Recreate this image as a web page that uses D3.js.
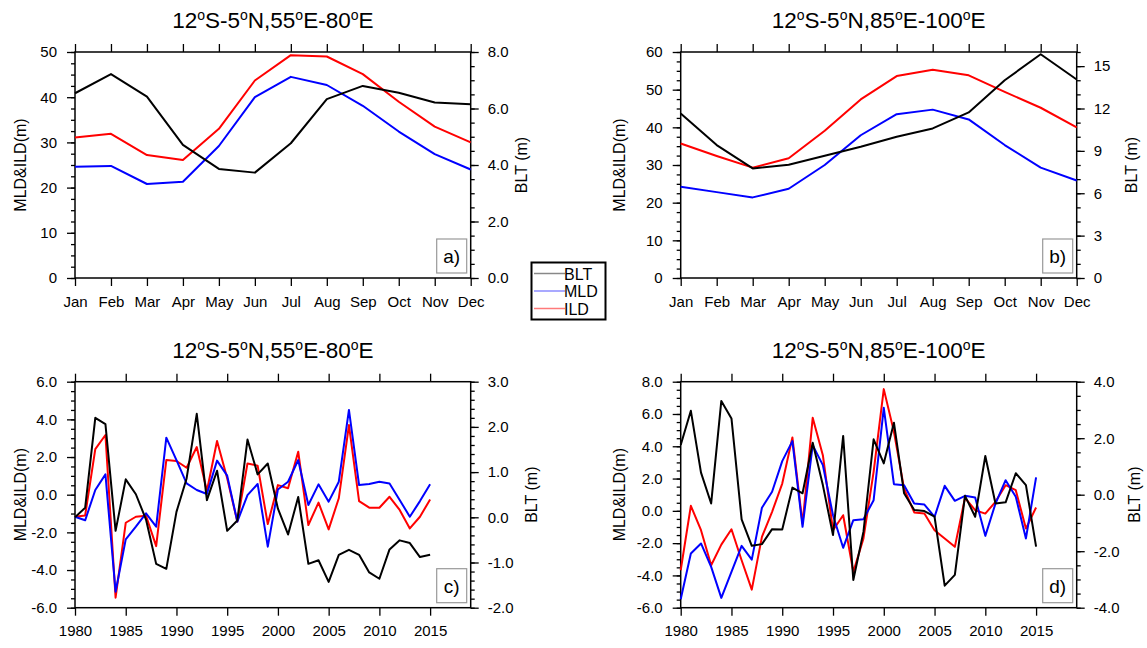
<!DOCTYPE html>
<html>
<head>
<meta charset="utf-8">
<script src="https://cdn.jsdelivr.net/npm/d3@7"></script>
<style>
    body { margin: 0; background: #fff; }
    svg { font-family: "Liberation Sans", Arial, Helvetica, sans-serif; }
</style>
</head>
<body>
<svg id="chart" width="1147" height="648"></svg>
<script>
// climatology (panels a, b)
const months = ['Jan', 'Feb', 'Mar', 'Apr', 'May', 'Jun', 'Jul', 'Aug', 'Sep', 'Oct', 'Nov', 'Dec'];

const mldA = [24.6, 24.8, 20.8, 21.3, 29.2, 40.0, 44.5, 42.7, 38.1, 32.4, 27.4, 24.0];
const ildA = [31.1, 31.9, 27.2, 26.1, 33.0, 43.7, 49.3, 49.0, 45.1, 39.0, 33.5, 30.0];
const bltA = [6.54, 7.22, 6.42, 4.71, 3.86, 3.73, 4.77, 6.33, 6.80, 6.56, 6.21, 6.15];

const mldB = [24.2, 22.8, 21.4, 23.7, 30.0, 37.9, 43.5, 44.7, 42.1, 35.3, 29.3, 25.9];
const ildB = [35.7, 32.4, 29.3, 31.8, 39.1, 47.4, 53.6, 55.3, 53.8, 49.4, 45.2, 40.0];
const bltB = [11.65, 9.41, 7.76, 8.02, 8.66, 9.29, 10.0, 10.59, 11.72, 14.0, 15.84, 14.05];

// interannual anomalies (panels c, d)
const years = [1980, 1981, 1982, 1983, 1984, 1985, 1986, 1987, 1988, 1989,
               1990, 1991, 1992, 1993, 1994, 1995, 1996, 1997, 1998, 1999,
               2000, 2001, 2002, 2003, 2004, 2005, 2006, 2007, 2008, 2009,
               2010, 2011, 2012, 2013, 2014, 2015];

const mldC = [-1.17, -1.36, 0.25, 1.08, -5.15, -2.37, -1.70, -0.99, -1.70, 3.03,
              1.84, 0.60, 0.25, 0.04, 1.81, 1.01, -1.43, -0.02, 0.57, -2.76,
              0.28, 0.69, 1.84, -0.55, 0.55, -0.37, 0.69, 4.50, 0.51, 0.57,
              0.69, 0.60, -0.28, -1.17, -0.34, 0.55];
const ildC = [-1.17, -1.10, 2.42, 3.17, -5.47, -1.49, -1.17, -1.12, -2.73, 1.84,
              1.79, 1.43, 2.53, 0.20, 2.85, 0.87, -1.43, 1.66, 1.54, -1.56,
              0.51, 0.34, 2.28, -1.61, -0.42, -1.84, -0.19, 3.70, -0.34, -0.69,
              -0.69, -0.11, -0.81, -1.79, -1.17, -0.25];
const bltC = [0.0, 0.21, 2.20, 2.06, -0.30, 0.84, 0.51, -0.05, -1.03, -1.14,
              0.12, 0.86, 2.29, 0.38, 1.03, -0.30, -0.07, 1.72, 0.95, 1.19,
              0.19, -0.38, 0.45, -1.03, -0.95, -1.43, -0.83, -0.72, -0.83, -1.22,
              -1.36, -0.71, -0.51, -0.57, -0.88, -0.83];

const mldD = [-5.48, -2.64, -2.02, -3.47, -5.39, -3.78, -2.17, -3.02, 0.19, 1.18,
              3.08, 4.32, -0.99, 4.07, 2.83, -0.27, -2.29, -0.58, -0.52, 0.66,
              6.38, 1.65, 1.59, 0.45, 0.39, -0.37, 1.55, 0.62, 0.93, 0.83,
              -1.55, 0.45, 1.90, 0.87, -1.71, 2.07];
const ildD = [-3.68, 0.31, -1.20, -3.37, -2.09, -1.14, -3.06, -4.88, -1.61, -0.06,
              1.69, 4.55, -0.79, 5.76, 3.45, -1.20, -0.27, -3.78, -1.71, 2.42,
              7.54, 4.90, 1.38, -0.10, -0.17, -1.20, -1.71, -2.23, 0.81, 0.04,
              -0.17, 0.56, 1.59, 1.28, -1.10, 0.21];
const bltD = [1.76, 2.97, 0.78, -0.31, 3.32, 2.70, -0.87, -1.81, -1.75, -1.22,
              -1.23, 0.25, 0.05, 1.84, 0.34, -1.43, 2.08, -3.02, -1.31, 1.96,
              1.11, 2.55, 0.05, -0.54, -0.58, -0.78, -3.22, -2.84, -0.04, -0.78,
              1.37, -0.31, -0.27, 0.76, 0.34, -1.84];

// tick labels
const yearTicks = [1980, 1985, 1990, 1995, 2000, 2005, 2010, 2015];
const titleWest = ['12', 'o', 'S-5', 'o', 'N,55', 'o', 'E-80', 'o', 'E'];
const titleEast = ['12', 'o', 'S-5', 'o', 'N,85', 'o', 'E-100', 'o', 'E'];
const legendNames = ['BLT', 'MLD', 'ILD'];

const COLORS = { blt: '#000', mld: '#0000ff', ild: '#ff0000' };
const svg = d3.select('#chart');

const fmt1 = d => d.toFixed(1);
const fmt0 = d => String(d);

const panels = [
    {
        left: 75, right: 470.7, top: 52, bottom: 278,
        kind: 'month', title: titleWest, tag: 'a)',
        lDom: [0, 50], lTicks: [0, 10, 20, 30, 40, 50], lMinor: 2.5, lFmt: fmt0,
        rDom: [0, 8], rTicks: [0, 2, 4, 6, 8], rMinor: 0.5, rFmt: fmt1,
        mld: mldA, ild: ildA, blt: bltA, lTitleX: 20, rTitleX: 521
    },
    {
        left: 680.7, right: 1076.7, top: 52, bottom: 278,
        kind: 'month', title: titleEast, tag: 'b)',
        lDom: [0, 60], lTicks: [0, 10, 20, 30, 40, 50, 60], lMinor: 2.5, lFmt: fmt0,
        rDom: [0, 16], rTicks: [0, 3, 6, 9, 12, 15], rMinor: 1, rFmt: fmt0,
        mld: mldB, ild: ildB, blt: bltB, lTitleX: 619, rTitleX: 1131
    },
    {
        left: 75, right: 470.7, top: 381.7, bottom: 607.7,
        kind: 'year', title: titleWest, tag: 'c)',
        lDom: [-6, 6], lTicks: [-6, -4, -2, 0, 2, 4, 6], lMinor: 0.5, lFmt: fmt1,
        rDom: [-2, 3], rTicks: [-2, -1, 0, 1, 2, 3], rMinor: 0.2, rFmt: fmt1,
        mld: mldC, ild: ildC, blt: bltC, lTitleX: 20, rTitleX: 531
    },
    {
        left: 680.7, right: 1076.7, top: 381.7, bottom: 607.7,
        kind: 'year', title: titleEast, tag: 'd)',
        lDom: [-6, 8], lTicks: [-6, -4, -2, 0, 2, 4, 6, 8], lMinor: 0.5, lFmt: fmt1,
        rDom: [-4, 4], rTicks: [-4, -2, 0, 2, 4], rMinor: 0.5, rFmt: fmt1,
        mld: mldD, ild: ildD, blt: bltD, lTitleX: 619, rTitleX: 1134
    }
];

function minorTicks(dom, step) {
    const out = [];
    const n = Math.round((dom[1] - dom[0]) / step);
    for (let i = 0; i <= n; i++) out.push(dom[0] + i * step);
    return out;
}

function styleAxis(sel) {
    sel.select('.domain').remove();
    sel.selectAll('line').attr('stroke', '#000').attr('stroke-width', 1.3);
    sel.selectAll('text').attr('fill', '#000').style('font-size', '15px');
}

function drawPanel(p) {
    const g = svg.append('g');

    const x = p.kind === 'month'
        ? d3.scalePoint().domain(months).range([p.left, p.right])
        : d3.scaleLinear().domain([1980, 2019]).range([p.left, p.right]);
    const xv = p.kind === 'month' ? months : years;
    const yL = d3.scaleLinear().domain(p.lDom).range([p.bottom, p.top]);
    const yR = d3.scaleLinear().domain(p.rDom).range([p.bottom, p.top]);

    const bottomAxis = p.kind === 'month'
        ? d3.axisBottom(x)
        : d3.axisBottom(x).tickValues(yearTicks).tickFormat(fmt0);
    const topAxis = p.kind === 'month'
        ? d3.axisTop(x).tickFormat('')
        : d3.axisTop(x).tickValues(yearTicks).tickFormat('');

    // minor ticks on the y axes
    g.append('g').attr('transform', `translate(${p.left},0)`)
        .call(d3.axisLeft(yL).tickValues(minorTicks(p.lDom, p.lMinor)).tickSize(4).tickFormat(''))
        .call(styleAxis);
    g.append('g').attr('transform', `translate(${p.right},0)`)
        .call(d3.axisRight(yR).tickValues(minorTicks(p.rDom, p.rMinor)).tickSize(4).tickFormat(''))
        .call(styleAxis);

    // major ticks
    g.append('g').attr('transform', `translate(${p.left},0)`)
        .call(d3.axisLeft(yL).tickValues(p.lTicks).tickSize(8).tickPadding(10).tickFormat(p.lFmt))
        .call(styleAxis);
    g.append('g').attr('transform', `translate(${p.right},0)`)
        .call(d3.axisRight(yR).tickValues(p.rTicks).tickSize(8).tickPadding(9).tickFormat(p.rFmt))
        .call(styleAxis);
    g.append('g').attr('transform', `translate(0,${p.bottom})`)
        .call(bottomAxis.tickSize(8).tickPadding(10))
        .call(styleAxis);
    g.append('g').attr('transform', `translate(0,${p.top})`)
        .call(topAxis.tickSize(8))
        .call(styleAxis);

    // frame
    g.append('rect')
        .attr('x', p.left).attr('y', p.top)
        .attr('width', p.right - p.left).attr('height', p.bottom - p.top)
        .attr('fill', 'none').attr('stroke', '#000').attr('stroke-width', 1.5);

    // series
    const series = [
        { vals: p.ild, y: yL, color: COLORS.ild },
        { vals: p.mld, y: yL, color: COLORS.mld },
        { vals: p.blt, y: yR, color: COLORS.blt }
    ];
    series.forEach(s => {
        const line = d3.line()
            .x((d, i) => x(xv[i]))
            .y(d => s.y(d));
        g.append('path')
            .datum(s.vals)
            .attr('d', line)
            .attr('fill', 'none')
            .attr('stroke', s.color)
            .attr('stroke-width', 2)
            .attr('stroke-linejoin', 'round');
    });

    // title with superscript degree marks
    const t = g.append('text')
        .attr('x', (p.left + p.right) / 2)
        .attr('y', p.top - 24)
        .attr('text-anchor', 'middle')
        .style('font-size', '22.5px')
        .attr('fill', '#000');
    p.title.forEach((part, i) => {
        if (part === 'o') {
            t.append('tspan').attr('dy', -8).style('font-size', '14px').text('o');
        } else {
            t.append('tspan').attr('dy', i === 0 ? 0 : 8).text(part);
        }
    });

    // axis titles
    const midY = (p.top + p.bottom) / 2;
    g.append('text')
        .attr('transform', `translate(${p.lTitleX},${midY}) rotate(-90)`)
        .attr('text-anchor', 'middle').attr('dy', '0.35em')
        .style('font-size', '16px').attr('fill', '#000')
        .text('MLD&ILD(m)');
    g.append('text')
        .attr('transform', `translate(${p.rTitleX},${midY}) rotate(-90)`)
        .attr('text-anchor', 'middle').attr('dy', '0.35em')
        .style('font-size', '16px').attr('fill', '#000')
        .text('BLT (m)');

    // panel tag
    const bw = 30, bh = 34;
    const bx = p.right - 4 - bw, by = p.bottom - 5 - bh;
    g.append('rect')
        .attr('x', bx).attr('y', by).attr('width', bw).attr('height', bh)
        .attr('fill', '#fff').attr('stroke', '#999').attr('stroke-width', 1.2);
    g.append('text')
        .attr('x', bx + bw / 2).attr('y', by + bh / 2)
        .attr('text-anchor', 'middle').attr('dy', '0.36em')
        .style('font-size', '19px').attr('fill', '#000')
        .text(p.tag);
}

panels.forEach(drawPanel);

// legend
const legend = svg.append('g');
legend.append('rect')
    .attr('x', 531.5).attr('y', 262.5).attr('width', 74).attr('height', 57)
    .attr('fill', '#fff').attr('stroke', '#000').attr('stroke-width', 2);
const legendColors = ['#888', '#8c8cff', '#ff7a7a'];
legendNames.forEach((name, i) => {
    const ly = 273.5 + i * 17.5;
    legend.append('line')
        .attr('x1', 534).attr('x2', 565).attr('y1', ly).attr('y2', ly)
        .attr('stroke', legendColors[i]).attr('stroke-width', 1.5);
    legend.append('text')
        .attr('x', 564).attr('y', ly + 6)
        .style('font-size', '16px').attr('fill', '#000')
        .text(name);
});
</script>
</body>
</html>
